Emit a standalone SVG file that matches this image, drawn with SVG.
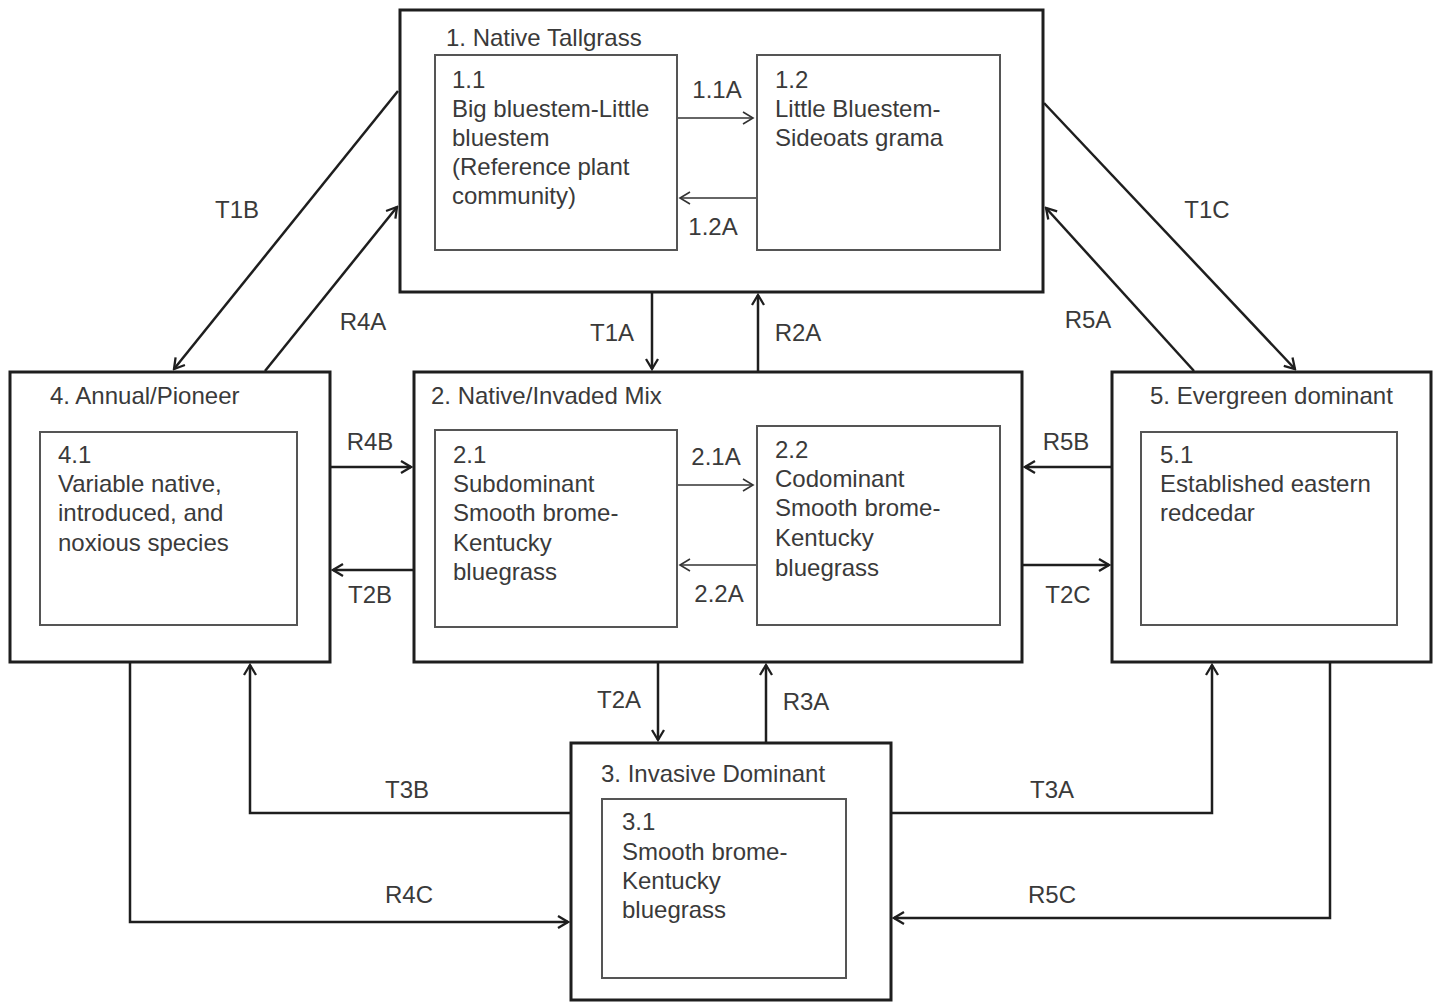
<svg xmlns="http://www.w3.org/2000/svg" width="1439" height="1003" viewBox="0 0 1439 1003">
<style>
.outer{fill:#fff;stroke:#1e1e1e;stroke-width:3}
.inner{fill:#fff;stroke:#555;stroke-width:2}
text{font-family:"Liberation Sans",Arial,sans-serif;font-size:24px;fill:#3a3a3a}
.lbl{text-anchor:middle}
.c{fill:none;stroke:#1e1e1e;stroke-width:2.5}
.ci{fill:none;stroke:#333;stroke-width:1.6}
</style>
<defs>
<marker id="ah" markerUnits="userSpaceOnUse" markerWidth="14" markerHeight="14" viewBox="0 0 14 14" refX="12" refY="7" orient="auto">
<path d="M2,1 L12,7 L2,13" fill="none" stroke="#1e1e1e" stroke-width="2.3"/>
</marker>
<marker id="ahi" markerUnits="userSpaceOnUse" markerWidth="14" markerHeight="14" viewBox="0 0 14 14" refX="12" refY="7" orient="auto">
<path d="M2,1 L12,7 L2,13" fill="none" stroke="#333" stroke-width="1.6"/>
</marker>
</defs>
<rect width="1439" height="1003" fill="#fff"/>

<g id="state1">
<rect class="outer" x="400" y="10" width="643" height="282"/>
<text x="446" y="46">1. Native Tallgrass</text>
<g id="phase1-1">
<rect class="inner" x="435" y="55" width="242" height="195"/>
<text x="452" y="88">1.1</text>
<text x="452" y="117">Big bluestem-Little</text>
<text x="452" y="146">bluestem</text>
<text x="452" y="175">(Reference plant</text>
<text x="452" y="204">community)</text>
</g>
<g id="phase1-2">
<rect class="inner" x="757" y="55" width="243" height="195"/>
<text x="775" y="88">1.2</text>
<text x="775" y="117">Little Bluestem-</text>
<text x="775" y="146">Sideoats grama</text>
</g>
</g>

<g id="state4">
<rect class="outer" x="10" y="372" width="320" height="290"/>
<text x="50" y="404">4. Annual/Pioneer</text>
<g id="phase4-1">
<rect class="inner" x="40" y="432" width="257" height="193"/>
<text x="58" y="463">4.1</text>
<text x="58" y="492">Variable native,</text>
<text x="58" y="521">introduced, and</text>
<text x="58" y="551">noxious species</text>
</g>
</g>

<g id="state2">
<rect class="outer" x="414" y="372" width="608" height="290"/>
<text x="431" y="404">2. Native/Invaded Mix</text>
<g id="phase2-1">
<rect class="inner" x="435" y="430" width="242" height="197"/>
<text x="453" y="463">2.1</text>
<text x="453" y="492">Subdominant</text>
<text x="453" y="521">Smooth brome-</text>
<text x="453" y="551">Kentucky</text>
<text x="453" y="580">bluegrass</text>
</g>
<g id="phase2-2">
<rect class="inner" x="757" y="426" width="243" height="199"/>
<text x="775" y="458">2.2</text>
<text x="775" y="487">Codominant</text>
<text x="775" y="516">Smooth brome-</text>
<text x="775" y="546">Kentucky</text>
<text x="775" y="576">bluegrass</text>
</g>
</g>

<g id="state5">
<rect class="outer" x="1112" y="372" width="319" height="290"/>
<text x="1150" y="404">5. Evergreen dominant</text>
<g id="phase5-1">
<rect class="inner" x="1141" y="432" width="256" height="193"/>
<text x="1160" y="463">5.1</text>
<text x="1160" y="492">Established eastern</text>
<text x="1160" y="521">redcedar</text>
</g>
</g>

<g id="state3">
<rect class="outer" x="571" y="743" width="320" height="257"/>
<text x="601" y="782">3. Invasive Dominant</text>
<g id="phase3-1">
<rect class="inner" x="602" y="799" width="244" height="179"/>
<text x="622" y="830">3.1</text>
<text x="622" y="860">Smooth brome-</text>
<text x="622" y="889">Kentucky</text>
<text x="622" y="918">bluegrass</text>
</g>
</g>

<g id="connectors">
<line class="c" x1="398" y1="91" x2="174" y2="369" marker-end="url(#ah)"/>
<line class="c" x1="265" y1="371" x2="397" y2="207" marker-end="url(#ah)"/>
<line class="c" x1="1044" y1="103" x2="1295" y2="369" marker-end="url(#ah)"/>
<line class="c" x1="1194" y1="371" x2="1046" y2="208" marker-end="url(#ah)"/>
<line class="c" x1="652" y1="293" x2="652" y2="369" marker-end="url(#ah)"/>
<line class="c" x1="758" y1="371" x2="758" y2="295" marker-end="url(#ah)"/>
<line class="c" x1="331" y1="467" x2="411" y2="467" marker-end="url(#ah)"/>
<line class="c" x1="413" y1="570" x2="333" y2="570" marker-end="url(#ah)"/>
<line class="c" x1="1111" y1="467" x2="1025" y2="467" marker-end="url(#ah)"/>
<line class="c" x1="1023" y1="565" x2="1109" y2="565" marker-end="url(#ah)"/>
<line class="c" x1="658" y1="663" x2="658" y2="740" marker-end="url(#ah)"/>
<line class="c" x1="766" y1="742" x2="766" y2="665" marker-end="url(#ah)"/>
<polyline class="c" points="570,813 250,813 250,665" marker-end="url(#ah)"/>
<polyline class="c" points="892,813 1212,813 1212,665" marker-end="url(#ah)"/>
<polyline class="c" points="130,663 130,922 568,922" marker-end="url(#ah)"/>
<polyline class="c" points="1330,663 1330,918 894,918" marker-end="url(#ah)"/>
<line class="ci" x1="678" y1="118" x2="753" y2="118" marker-end="url(#ahi)"/>
<line class="ci" x1="756" y1="198" x2="680" y2="198" marker-end="url(#ahi)"/>
<line class="ci" x1="678" y1="485" x2="753" y2="485" marker-end="url(#ahi)"/>
<line class="ci" x1="756" y1="565" x2="680" y2="565" marker-end="url(#ahi)"/>
<text class="lbl" x="237" y="218">T1B</text>
<text class="lbl" x="363" y="330">R4A</text>
<text class="lbl" x="612" y="341">T1A</text>
<text class="lbl" x="798" y="341">R2A</text>
<text class="lbl" x="1088" y="328">R5A</text>
<text class="lbl" x="1207" y="218">T1C</text>
<text class="lbl" x="370" y="450">R4B</text>
<text class="lbl" x="370" y="603">T2B</text>
<text class="lbl" x="1066" y="450">R5B</text>
<text class="lbl" x="1068" y="603">T2C</text>
<text class="lbl" x="619" y="708">T2A</text>
<text class="lbl" x="806" y="710">R3A</text>
<text class="lbl" x="407" y="798">T3B</text>
<text class="lbl" x="1052" y="798">T3A</text>
<text class="lbl" x="409" y="903">R4C</text>
<text class="lbl" x="1052" y="903">R5C</text>
<text class="lbl" x="717" y="98">1.1A</text>
<text class="lbl" x="713" y="235">1.2A</text>
<text class="lbl" x="716" y="465">2.1A</text>
<text class="lbl" x="719" y="602">2.2A</text>
</g>
</svg>
